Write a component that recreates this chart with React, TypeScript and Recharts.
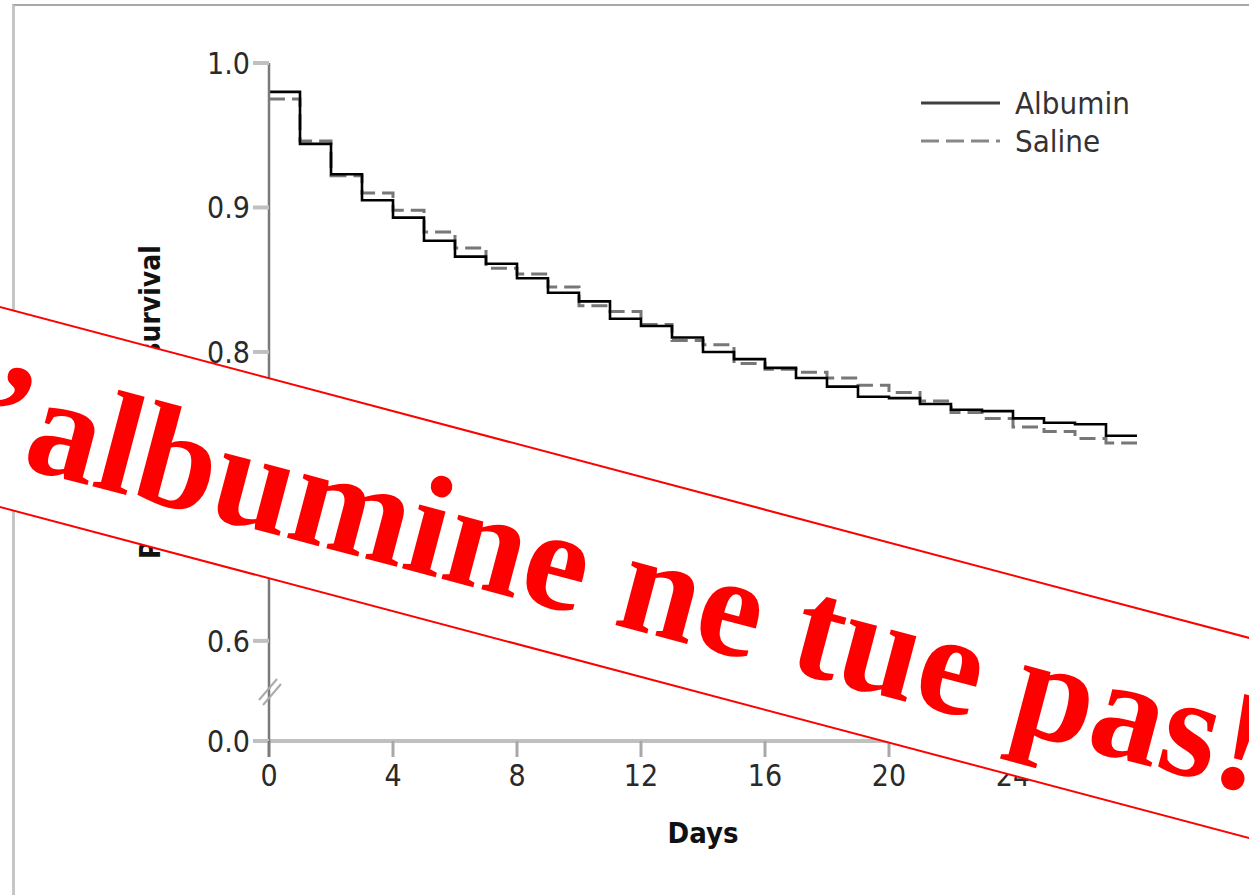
import { LineChart, Line, XAxis, YAxis, Legend } from "recharts";

// Kaplan-Meier style survival (step after each day)
const days = [0, 1, 2, 3, 4, 5, 6, 7, 8, 9, 10, 11, 12, 13, 14, 15, 16, 17, 18, 19, 20, 21, 22, 23, 24, 25, 26, 27, 28];
const albumin = [
  0.98, 0.944, 0.923, 0.905, 0.893, 0.877, 0.866, 0.861, 0.851, 0.841,
  0.835, 0.823, 0.818, 0.81, 0.8, 0.795, 0.789, 0.782, 0.776, 0.769,
  0.768, 0.764, 0.76, 0.759, 0.754, 0.751, 0.75, 0.742, 0.742,
];
const saline = [
  0.975, 0.946, 0.922, 0.91, 0.898, 0.883, 0.872, 0.858, 0.854, 0.845,
  0.832, 0.828, 0.819, 0.808, 0.805, 0.792, 0.788, 0.786, 0.782, 0.777,
  0.772, 0.766, 0.758, 0.754, 0.748, 0.745, 0.74, 0.737, 0.737,
];
const xTicks = [0, 4, 8, 12, 16, 20, 24, 28];
const yTicks = [0.0, 0.6, 0.7, 0.8, 0.9, 1.0];

// the axis is broken below 0.6: 0.0 is drawn just under it
const AXIS_FLOOR = 0.5307;
const SANS = "'DejaVu Sans Condensed', 'DejaVu Sans', sans-serif";

const data = days.map((day, i) => ({ day, albumin: albumin[i], saline: saline[i] }));

const series = [
  { key: "albumin", name: "Albumin", color: "#000000", legendColor: "#404040", dash: undefined, width: 2.6 },
  { key: "saline", name: "Saline", color: "#777777", legendColor: "#888888", dash: "16 7", width: 3 },
];

function LegendBox() {
  return (
    <div style={{ fontFamily: SANS, fontStretch: "condensed", fontSize: 31, color: "#333" }}>
      {series.map((s) => (
        <div key={s.key} style={{ display: "flex", alignItems: "center", height: 38 }}>
          <svg width={100} height={10}>
            <line x1={6} y1={5} x2={85} y2={5} stroke={s.legendColor} strokeWidth={3} strokeDasharray={s.dash ? "18 7" : undefined} />
          </svg>
          <span>{s.name}</span>
        </div>
      ))}
    </div>
  );
}

export default function App() {
  const yDisplayTicks = yTicks.map((v) => (v === 0 ? AXIS_FLOOR : v));
  return (
    <div style={{ position: "absolute", left: 0, top: 0, width: 1249, height: 895, overflow: "hidden", background: "#fff" }}>
      <div
        style={{
          position: "absolute",
          left: 12,
          top: 4,
          width: 1400,
          height: 1000,
          borderLeft: "3px solid #c6c6c6",
          borderTop: "2px solid #a8a8a8",
        }}
      />
      <div style={{ position: "absolute", left: 0, top: 0 }}>
        <LineChart width={1249} height={895} data={data} margin={{ top: 63, right: 112, bottom: 54, left: 31 }}>
          <XAxis
            dataKey="day"
            type="number"
            domain={[0, 28]}
            ticks={xTicks}
            height={100}
            tickSize={16}
            tickMargin={8}
            axisLine={{ stroke: "#c0c0c0", strokeWidth: 4 }}
            tickLine={{ stroke: "#a8a8a8", strokeWidth: 3 }}
            tick={{ fill: "#2a2a2a", fontSize: 30, fontFamily: SANS, style: { fontStretch: "condensed" } }}
            label={{
              value: "Days",
              position: "insideBottom",
              offset: -2,
              style: { fill: "#111", fontSize: 29, fontWeight: "bold", fontFamily: SANS, fontStretch: "condensed" },
            }}
          />
          <YAxis
            type="number"
            domain={[AXIS_FLOOR, 1]}
            ticks={yDisplayTicks}
            allowDataOverflow
            width={238}
            tickSize={16}
            tickMargin={3}
            tickFormatter={(v: number) => (v < 0.55 ? "0.0" : v.toFixed(1))}
            axisLine={{ stroke: "#7a7a7a", strokeWidth: 2.5 }}
            tickLine={{ stroke: "#c0c0c0", strokeWidth: 4 }}
            tick={{ fill: "#2a2a2a", fontSize: 30, fontFamily: SANS, style: { fontStretch: "condensed" } }}
            label={{
              value: "Probability of survival",
              angle: -90,
              position: "center",
              style: { fill: "#111", fontSize: 28, fontWeight: "bold", fontFamily: SANS, fontStretch: "condensed" },
            }}
          />
          <Legend
            layout="vertical"
            align="center"
            verticalAlign="middle"
            content={() => <LegendBox />}
            wrapperStyle={{ left: 915, top: 84, width: 260 }}
          />
          {series
            .slice()
            .reverse()
            .map((s) => (
              <Line
                key={s.key}
                type="stepAfter"
                dataKey={s.key}
                name={s.name}
                stroke={s.color}
                strokeWidth={s.width}
                strokeDasharray={s.dash}
                dot={false}
                isAnimationActive={false}
              />
            ))}
        </LineChart>
      </div>
      {/* axis break marks, the y axis stub under the x axis, and the banner laid over the chart */}
      <svg width={1249} height={895} style={{ position: "absolute", left: 0, top: 0, pointerEvents: "none" }}>
        <line x1={269} y1={741} x2={269} y2={757} stroke="#7a7a7a" strokeWidth={2.5} />
        <line x1={259} y1={700} x2={277} y2={679} stroke="#aaaaaa" strokeWidth={2} />
        <line x1={263} y1={705} x2={281} y2={684} stroke="#aaaaaa" strokeWidth={2} />
        <g transform="translate(0 407) rotate(14.84)">
          <rect x={-300} y={-96.7} width={2000} height={193.4} fill="#ffffff" stroke="#ff0000" strokeWidth={2} />
          <text
            x={-96}
            y={53}
            fill="#ff0000"
            fontFamily="'Liberation Serif', 'Times New Roman', serif"
            fontWeight="bold"
            fontSize={144}
          >
            L’albumine ne tue pas!
          </text>
        </g>
      </svg>
    </div>
  );
}
